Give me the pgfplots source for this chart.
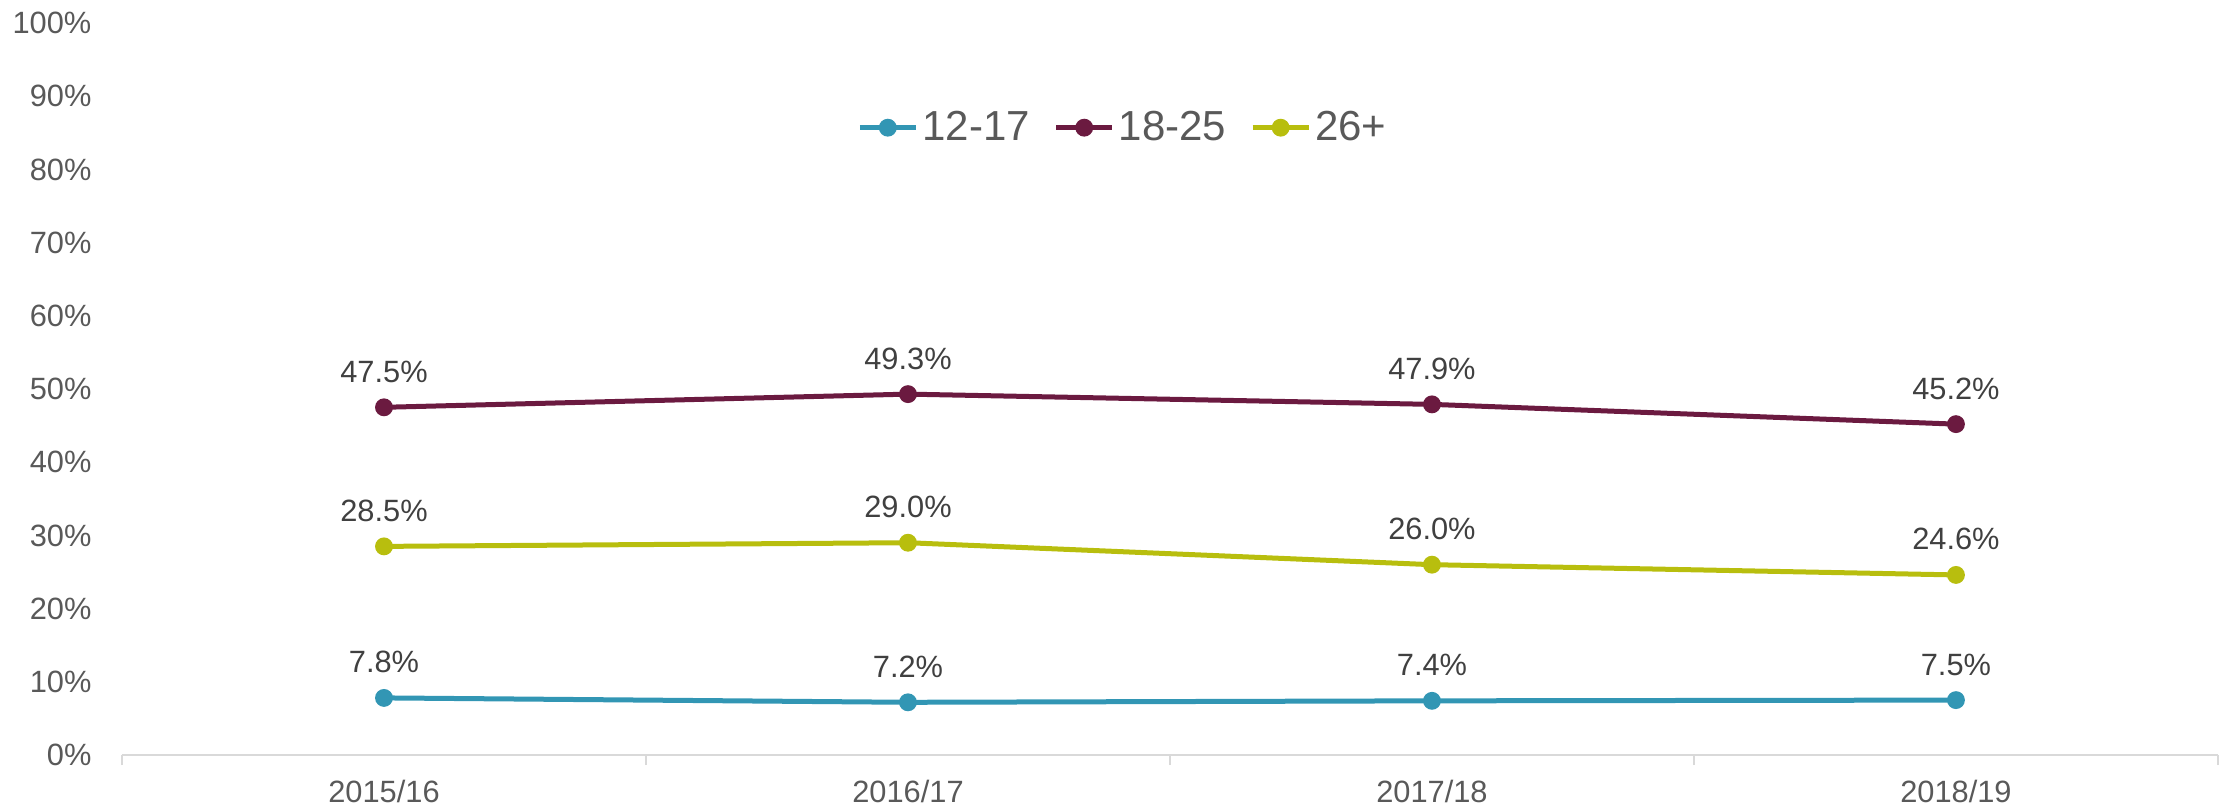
\documentclass[border=0pt]{standalone}
\usepackage{pgfplots}
\pgfplotsset{compat=1.18}
\usepackage{fontspec}
\setmainfont{Liberation Sans}
\definecolor{cblue}{HTML}{3296B4}
\definecolor{cmaroon}{HTML}{6B1A40}
\definecolor{colive}{HTML}{B8BE0E}
\definecolor{tickgray}{HTML}{595959}
\definecolor{labgray}{HTML}{404040}
\definecolor{axgray}{HTML}{D9D9D9}
\begin{document}
\begin{tikzpicture}
\useasboundingbox (0,0) rectangle (1114.5pt,405.5pt);
\begin{axis}[
  at={(61pt,28pt)}, anchor=south west,
  scale only axis, width=1048pt, height=366pt,
  xmin=-0.5, xmax=3.5, ymin=0, ymax=100,
  axis lines*=left,
  x axis line style={draw=axgray, line width=1pt, -},
  y axis line style={draw=none},
  xtick={0,1,2,3},
  xticklabels={2015/16,2016/17,2017/18,2018/19},
  minor xtick={-0.5,0.5,1.5,2.5,3.5},
  major x tick style={draw=none},
  minor x tick style={draw=axgray, line width=1pt},
  minor tick length=5pt,
  tick align=outside,
  ytick={0,10,...,100},
  ytick style={draw=none},
  yticklabel={\pgfmathprintnumber{\tick}\%},
  /pgf/number format/assume math mode=true,
  ticklabel style={font=\fontsize{15.4}{18}\selectfont, text=tickgray},
  yticklabel style={xshift=-7.5pt},
  xticklabel style={yshift=-5pt},
  clip=false,
  nodes near coords={\pgfmathprintnumber[fixed,fixed zerofill,precision=1]{\pgfplotspointmeta}\%},
  every node near coord/.append style={font=\fontsize{15.4}{18}\selectfont, text=labgray, anchor=base, yshift=12.5pt, inner sep=0pt},
  legend columns=3,
  legend style={draw=none, fill=none, at={(0.478,0.857)}, anchor=center,
    font=\fontsize{21}{24}\selectfont, text=tickgray,
    /tikz/every even column/.append style={column sep=10pt}},
  legend image code/.code={
    \draw[mark repeat=2, mark phase=2] plot coordinates {(0pt,0pt) (14pt,0pt) (28pt,0pt)};},
  every axis plot/.append style={line width=2.5pt, mark=*, mark size=3.2pt},
]
\addplot[color=cblue, mark options={fill=cblue, draw=cblue}] coordinates {(0,7.8) (1,7.2) (2,7.4) (3,7.5)};
\addlegendentry{12-17}
\addplot[color=cmaroon, mark options={fill=cmaroon, draw=cmaroon}] coordinates {(0,47.5) (1,49.3) (2,47.9) (3,45.2)};
\addlegendentry{18-25}
\addplot[color=colive, mark options={fill=colive, draw=colive}] coordinates {(0,28.5) (1,29.0) (2,26.0) (3,24.6)};
\addlegendentry{26+}
\end{axis}
\end{tikzpicture}
\end{document}
